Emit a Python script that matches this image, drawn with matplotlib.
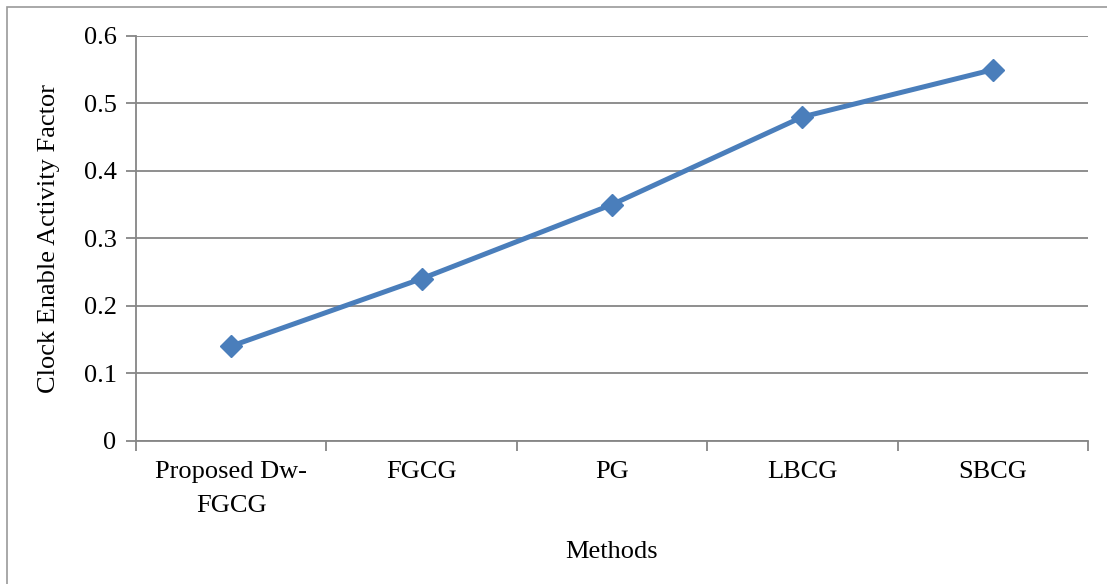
import matplotlib
matplotlib.use('Agg')
import matplotlib.pyplot as plt
from matplotlib.patches import Rectangle
import numpy as np

methods = ['Proposed Dw-\nFGCG', 'FGCG', 'PG', 'LBCG', 'SBCG']
activity = [0.14, 0.24, 0.35, 0.48, 0.55]
y_ticks = [0, 0.1, 0.2, 0.3, 0.4, 0.5, 0.6]

plt.rcParams['font.family'] = ['Liberation Serif', 'DejaVu Serif']

fig = plt.figure(figsize=(11.07, 5.84), dpi=100)
ax = fig.add_axes([136 / 1107, 1 - 440.5 / 584, (1088 - 136) / 1107, (440.5 - 36) / 584])

# outer chart frame (only top/left visible in the crop)
fig.patches.append(Rectangle((7 / 1107, -0.1), 1.2, 1 - 7 / 584 + 0.1,
                             transform=fig.transFigure, fill=False,
                             edgecolor='#9a9a9a', linewidth=1.2))

x = np.arange(len(methods))
ax.plot(x, activity, color='#4a7ebb', linewidth=3.6, marker='D',
        markersize=11, markerfacecolor='#4a7ebb', markeredgecolor='#4a7ebb',
        zorder=3)

ax.set_xlim(-0.5, len(methods) - 0.5)
ax.set_ylim(0, 0.6)
ax.set_yticks(y_ticks)
ax.set_yticklabels(['0'] + ['%.1f' % v for v in y_ticks[1:]])
ax.yaxis.grid(True, color='#868686', linewidth=1.3)
ax.set_axisbelow(True)

ax.set_xticks(x)
ax.set_xticklabels(methods, linespacing=1.7)
ax.set_xticks(np.arange(len(methods) + 1) - 0.5, minor=True)
ax.tick_params(axis='x', which='major', length=0, pad=15, labelsize=19)
ax.tick_params(axis='x', which='minor', length=7, width=1.3, color='#868686', direction='out')
ax.tick_params(axis='y', length=7, width=1.3, color='#868686', labelsize=19, pad=7)

for side in ['top', 'right']:
    ax.spines[side].set_visible(False)
for side in ['left', 'bottom']:
    ax.spines[side].set_color('#868686')
    ax.spines[side].set_linewidth(1.3)

ax.set_xlabel('Methods', fontsize=19, labelpad=17)
ax.set_ylabel('Clock Enable Activity Factor', fontsize=19, labelpad=17)

fig.savefig('out.png', dpi=100)
